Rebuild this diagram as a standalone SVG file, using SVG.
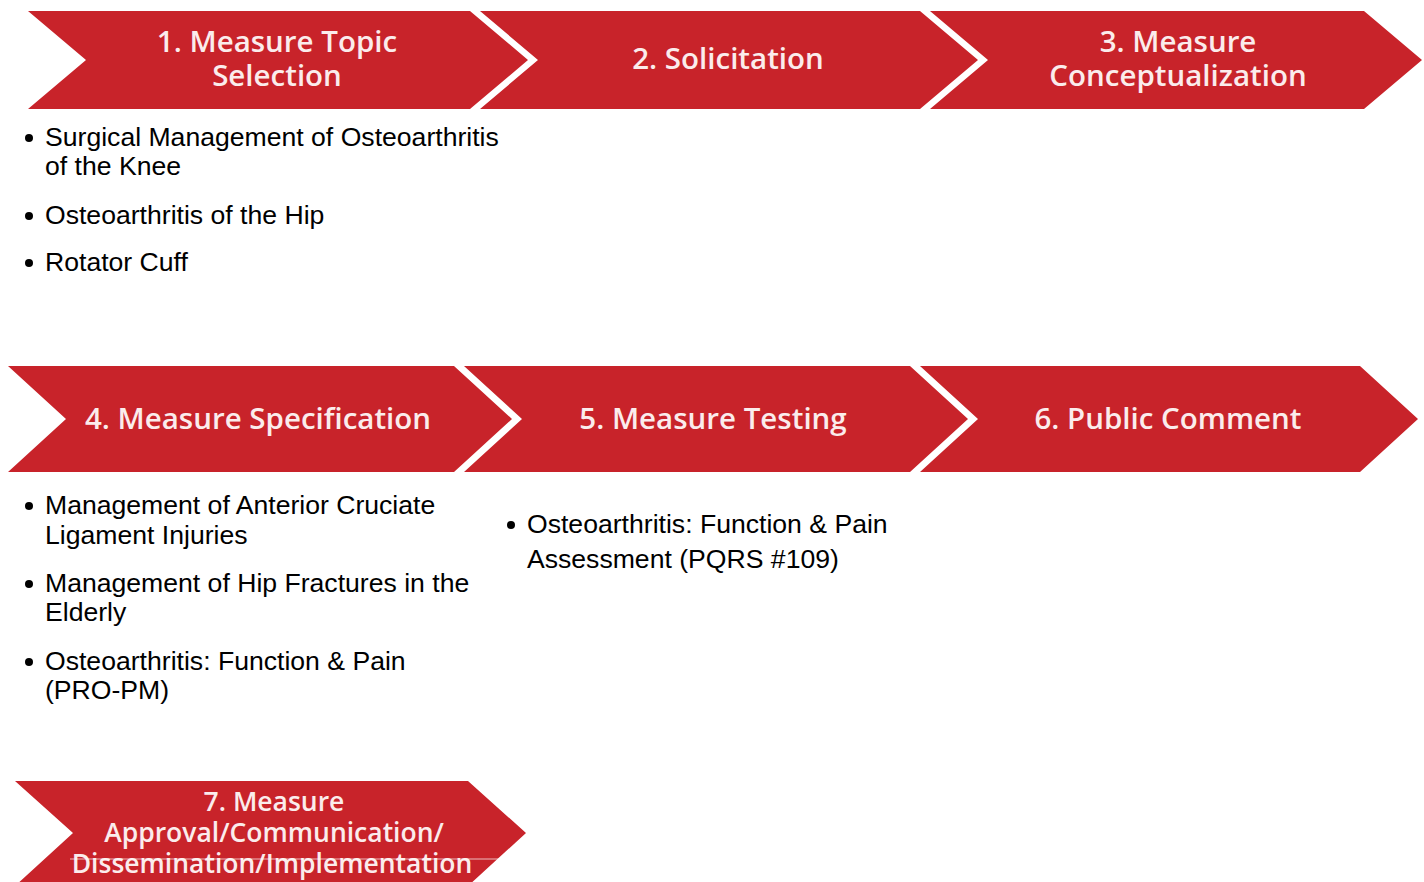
<svg xmlns="http://www.w3.org/2000/svg" width="1424" height="882" viewBox="0 0 1424 882">
<style>
.chev{fill:#C8232A}
.lbl{font-family:"Open Sans","Liberation Sans",sans-serif;font-size:29.5px;font-weight:600;fill:#FBECEC;text-anchor:middle}
.sm{font-size:26.5px}
.bt{font-family:"Liberation Sans",Arial,sans-serif;font-size:26.6px;fill:#000}
.dot{fill:#000}
</style>
<rect width="1424" height="882" fill="#fff"/>
<g id="step1"><path class="chev" d="M28,11 L470,11 L528,60 L470,109 L28,109 L86,60 Z"/><text class="lbl" x="277" y="52">1. Measure Topic</text><text class="lbl" x="277" y="86">Selection</text></g>
<g id="step2"><path class="chev" d="M480,11 L920,11 L978,60 L920,109 L480,109 L538,60 Z"/><text class="lbl" x="728" y="69">2. Solicitation</text></g>
<g id="step3"><path class="chev" d="M930,11 L1364,11 L1422,60 L1364,109 L930,109 L988,60 Z"/><text class="lbl" x="1178" y="52">3. Measure</text><text class="lbl" x="1178" y="86">Conceptualization</text></g>
<g id="step4"><path class="chev" d="M8,366 L454,366 L512,419 L454,472 L8,472 L66,419 Z"/><text class="lbl" x="258" y="429">4. Measure Specification</text></g>
<g id="step5"><path class="chev" d="M464,366 L910,366 L968,419 L910,472 L464,472 L522,419 Z"/><text class="lbl" x="713" y="429">5. Measure Testing</text></g>
<g id="step6"><path class="chev" d="M920,366 L1360,366 L1418,419 L1360,472 L920,472 L978,419 Z"/><text class="lbl" x="1168" y="429">6. Public Comment</text></g>
<g id="step7"><path class="chev" d="M15,781 L468,781 L526,833 L468,886 L15,886 L73,833 Z"/><text class="lbl sm" x="274" y="811">7. Measure</text><text class="lbl sm" x="274" y="842">Approval/Communication/</text><text class="lbl sm" x="272" y="873">Dissemination/Implementation</text><line x1="70" y1="859" x2="500" y2="859" stroke="#fff" stroke-width="1" opacity="0.7"/></g>
<g id="list1">
<circle class="dot" cx="29" cy="138" r="4"/><text class="bt" x="45" y="146">Surgical Management of Osteoarthritis</text>
<text class="bt" x="45" y="175">of the Knee</text>
<circle class="dot" cx="29" cy="216" r="4"/><text class="bt" x="45" y="224">Osteoarthritis of the Hip</text>
<circle class="dot" cx="29" cy="263" r="4"/><text class="bt" x="45" y="271">Rotator Cuff</text>
</g>
<g id="list4">
<circle class="dot" cx="29" cy="506" r="4"/><text class="bt" x="45" y="514">Management of Anterior Cruciate</text>
<text class="bt" x="45" y="544">Ligament Injuries</text>
<circle class="dot" cx="29" cy="584" r="4"/><text class="bt" x="45" y="592">Management of Hip Fractures in the</text>
<text class="bt" x="45" y="621">Elderly</text>
<circle class="dot" cx="29" cy="662" r="4"/><text class="bt" x="45" y="670">Osteoarthritis: Function &amp; Pain</text>
<text class="bt" x="45" y="699">(PRO-PM)</text>
</g>
<g id="list5">
<circle class="dot" cx="511" cy="525" r="4"/><text class="bt" x="527" y="533">Osteoarthritis: Function &amp; Pain</text>
<text class="bt" x="527" y="568">Assessment (PQRS #109)</text>
</g>
<g id="connectors"></g>
</svg>
